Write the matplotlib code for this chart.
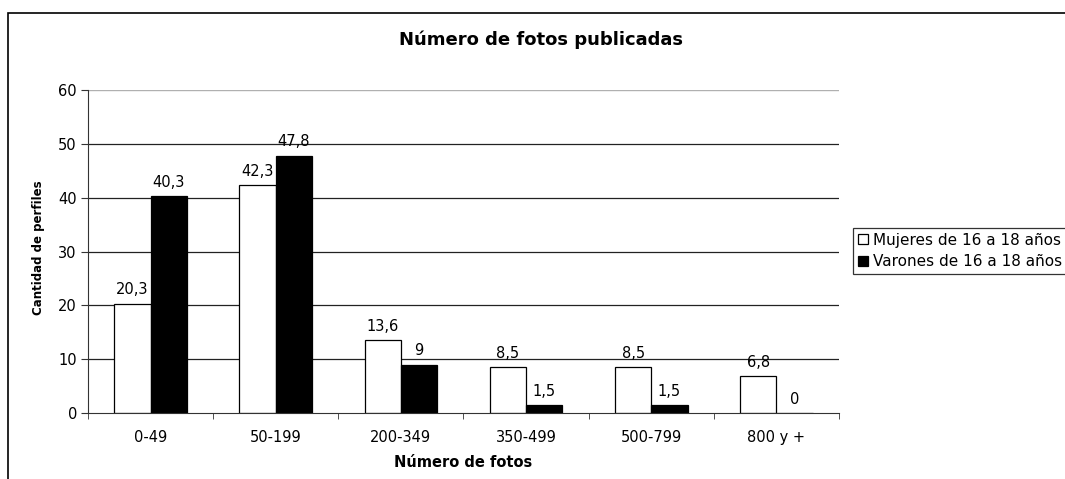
import matplotlib.pyplot as plt
import matplotlib.patches as mpatches
import numpy as np

plt.rcParams['font.family'] = ['DejaVu Sans']

categorias = ["0-49", "50-199", "200-349", "350-499", "500-799", "800 y +"]
mujeres = [20.3, 42.3, 13.6, 8.5, 8.5, 6.8]
varones = [40.3, 47.8, 9, 1.5, 1.5, 0]
series = ["Mujeres de 16 a 18 años", "Varones de 16 a 18 años"]


def fmt(v):
	s = ("%.1f" % v).rstrip("0").rstrip(".")
	return s.replace(".", ",")


W, H = 1065, 479
fig = plt.figure(figsize=(W / 100, H / 100), dpi=100)
ax = fig.add_axes([88 / W, 1 - 413 / H, (839 - 88) / W, (413 - 90) / H])

# borde del area del grafico (se sale por la derecha y por abajo)
fig.patches.append(mpatches.Rectangle((8 / W, -0.1), 1.2, 1 - 13 / H + 0.1,
	transform=fig.transFigure, fill=False, edgecolor="black", linewidth=1.2))

x = np.arange(len(categorias))
w = 0.29
b1 = ax.bar(x - w / 2, mujeres, w, color="white", edgecolor="black", linewidth=0.9,
	label=series[0], zorder=2)
b2 = ax.bar(x + w / 2, varones, w, color="black", edgecolor="black", linewidth=0.9,
	label=series[1], zorder=2)

for bars, vals in ((b1, mujeres), (b2, varones)):
	for r, v in zip(bars, vals):
		ax.annotate(fmt(v), (r.get_x() + r.get_width() / 2, v), xytext=(0, 4.5),
			textcoords="offset points", ha="center", va="bottom", fontsize=10.5, zorder=3)

ax.set_xlim(-0.5, len(categorias) - 0.5)
ax.set_ylim(0, 60)
ax.set_yticks(range(0, 61, 10))
ax.set_yticklabels([str(t) for t in range(0, 61, 10)], fontsize=10.5)
ax.set_xticks(x)
ax.set_xticklabels(categorias, fontsize=10.5)
ax.set_xticks(np.arange(-0.5, len(categorias)), minor=True)
ax.tick_params(axis="x", which="major", length=0, pad=12)
ax.tick_params(axis="x", which="minor", length=4.5, color="#333333")
ax.tick_params(axis="y", length=5, color="#333333", pad=3)

for y in range(10, 51, 10):
	ax.axhline(y, color="#222222", linewidth=0.9, zorder=1)
ax.axhline(60, color="#b0b0b0", linewidth=1.0, zorder=1)

for s in ("top", "right"):
	ax.spines[s].set_visible(False)
ax.spines["left"].set_color("#333333")
ax.spines["bottom"].set_color("#333333")

ax.set_xlabel("Número de fotos", fontsize=10.5, fontweight="bold")
ax.xaxis.set_label_coords(0.5, (413 - 455) / 323)
ax.set_ylabel("Cantidad de perfiles", fontsize=8.5, fontweight="bold")
ax.yaxis.set_label_coords((45 - 88) / 751, (413 - 248) / 323)
fig.text(541 / W, 1 - 40 / H, "Número de fotos publicadas", ha="center", va="center",
	fontsize=13, fontweight="bold")

leg = fig.legend(handles=[b1, b2], labels=series, loc="upper left",
	bbox_to_anchor=(853 / W, 1 - 228 / H), fontsize=11, frameon=True,
	fancybox=False, edgecolor="black", handlelength=0.65, handleheight=0.65,
	handletextpad=0.35, borderpad=0.3, labelspacing=0.45, borderaxespad=0)
leg.get_frame().set_linewidth(0.9)

plt.savefig("out.png", dpi=100)
plt.close()
